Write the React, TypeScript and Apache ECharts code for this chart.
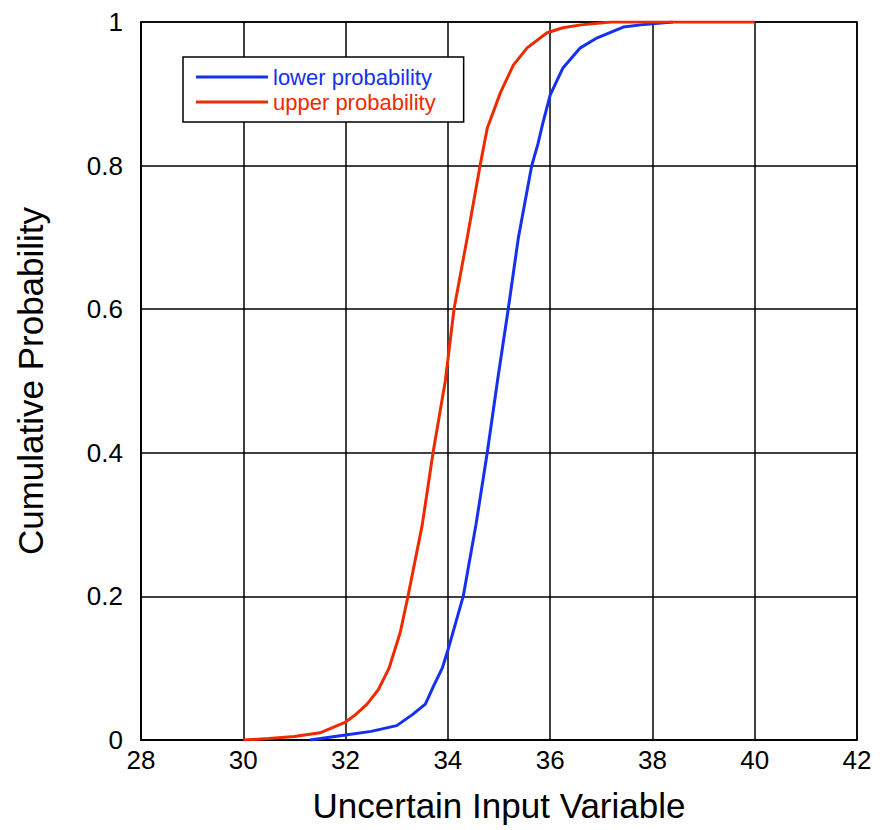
import React, { useEffect, useRef } from "react";
import * as echarts from "echarts";

const xTicks = [28, 30, 32, 34, 36, 38, 40, 42];
const yTicks = [0, 0.2, 0.4, 0.6, 0.8, 1];

const seriesNames = ["lower probability", "upper probability"];

const lowerX = [31.3, 32, 32.5, 33, 33.3, 33.56, 33.72, 33.89, 34, 34.1, 34.3, 34.55, 34.77, 34.97, 35.18, 35.38, 35.64, 35.76, 35.86, 36, 36.25, 36.59, 36.92, 37.43, 37.77, 38.4];
const lowerY = [0, 0.007, 0.012, 0.02, 0.035, 0.05, 0.075, 0.1, 0.125, 0.15, 0.2, 0.3, 0.4, 0.5, 0.6, 0.7, 0.8, 0.83, 0.86, 0.898, 0.936, 0.964, 0.978, 0.993, 0.996, 1];

const upperX = [30, 30.5, 31, 31.5, 32, 32.19, 32.42, 32.64, 32.85, 33.07, 33.22, 33.5, 33.71, 33.95, 34.12, 34.38, 34.63, 34.77, 35.03, 35.28, 35.55, 35.94, 36.25, 36.6, 37.2, 40];
const upperY = [0, 0.002, 0.005, 0.01, 0.025, 0.035, 0.05, 0.07, 0.1, 0.15, 0.2, 0.3, 0.4, 0.5, 0.6, 0.7, 0.8, 0.852, 0.902, 0.94, 0.964, 0.985, 0.992, 0.996, 1, 1];

const BLUE = "#1530ee";
const RED = "#ee2a00";
const FONT = "Liberation Sans, Arial, Helvetica, sans-serif";

export default function App() {
  const ref = useRef<HTMLDivElement>(null);
  useEffect(() => {
    if (!ref.current) return;
    const chart = echarts.init(ref.current, undefined, { renderer: "svg" });
    const lowerData = lowerX.map((x, i) => [x, lowerY[i]]);
    const upperData = upperX.map((x, i) => [x, upperY[i]]);
    chart.setOption({
      animation: false,
      backgroundColor: "#ffffff",
      textStyle: { fontFamily: FONT },
      grid: { left: 141, right: 29, top: 22, bottom: 90, show: true, borderColor: "#000", borderWidth: 1.5 },
      legend: {
        orient: "vertical",
        left: 183,
        top: 57,
        backgroundColor: "#fff",
        borderColor: "#000",
        borderWidth: 1.5,
        padding: [9, 28, 9, 13],
        itemGap: 3,
        itemWidth: 72,
        itemHeight: 3,
        icon: "rect",
        data: [
          { name: seriesNames[0], textStyle: { color: BLUE } },
          { name: seriesNames[1], textStyle: { color: RED } },
        ],
        textStyle: { fontSize: 22, lineHeight: 22, fontFamily: FONT },
      },
      xAxis: {
        type: "value",
        min: xTicks[0],
        max: xTicks[xTicks.length - 1],
        interval: 2,
        name: "Uncertain Input Variable",
        nameLocation: "middle",
        nameGap: 48,
        nameTextStyle: { fontSize: 35, color: "#000", fontFamily: FONT },
        axisLine: { show: true, lineStyle: { color: "#000", width: 1.5 } },
        axisTick: { show: false },
        axisLabel: { color: "#000", fontSize: 26, margin: 7, fontFamily: FONT },
        splitLine: { show: true, lineStyle: { color: "#000", width: 1.5 } },
      },
      yAxis: {
        type: "value",
        min: yTicks[0],
        max: yTicks[yTicks.length - 1],
        interval: 0.2,
        name: "Cumulative Probability",
        nameLocation: "middle",
        nameGap: 93,
        nameTextStyle: { fontSize: 35, color: "#000", fontFamily: FONT },
        axisLine: { show: true, lineStyle: { color: "#000", width: 1.5 } },
        axisTick: { show: false },
        axisLabel: {
          color: "#000",
          fontSize: 26,
          margin: 18,
          fontFamily: FONT,
          formatter: (v: number) => String(Math.round(v * 10) / 10),
        },
        splitLine: { show: true, lineStyle: { color: "#000", width: 1.5 } },
      },
      series: [
        {
          name: seriesNames[0],
          type: "line",
          data: lowerData,
          showSymbol: false,
          smooth: false,
          lineStyle: { color: BLUE, width: 3 },
          itemStyle: { color: BLUE },
          z: 3,
        },
        {
          name: seriesNames[1],
          type: "line",
          data: upperData,
          showSymbol: false,
          smooth: false,
          lineStyle: { color: RED, width: 3 },
          itemStyle: { color: RED },
          z: 4,
        },
      ],
    });
    return () => chart.dispose();
  }, []);
  return <div ref={ref} style={{ width: 886, height: 830, position: "absolute", left: 0, top: 0 }} />;
}
